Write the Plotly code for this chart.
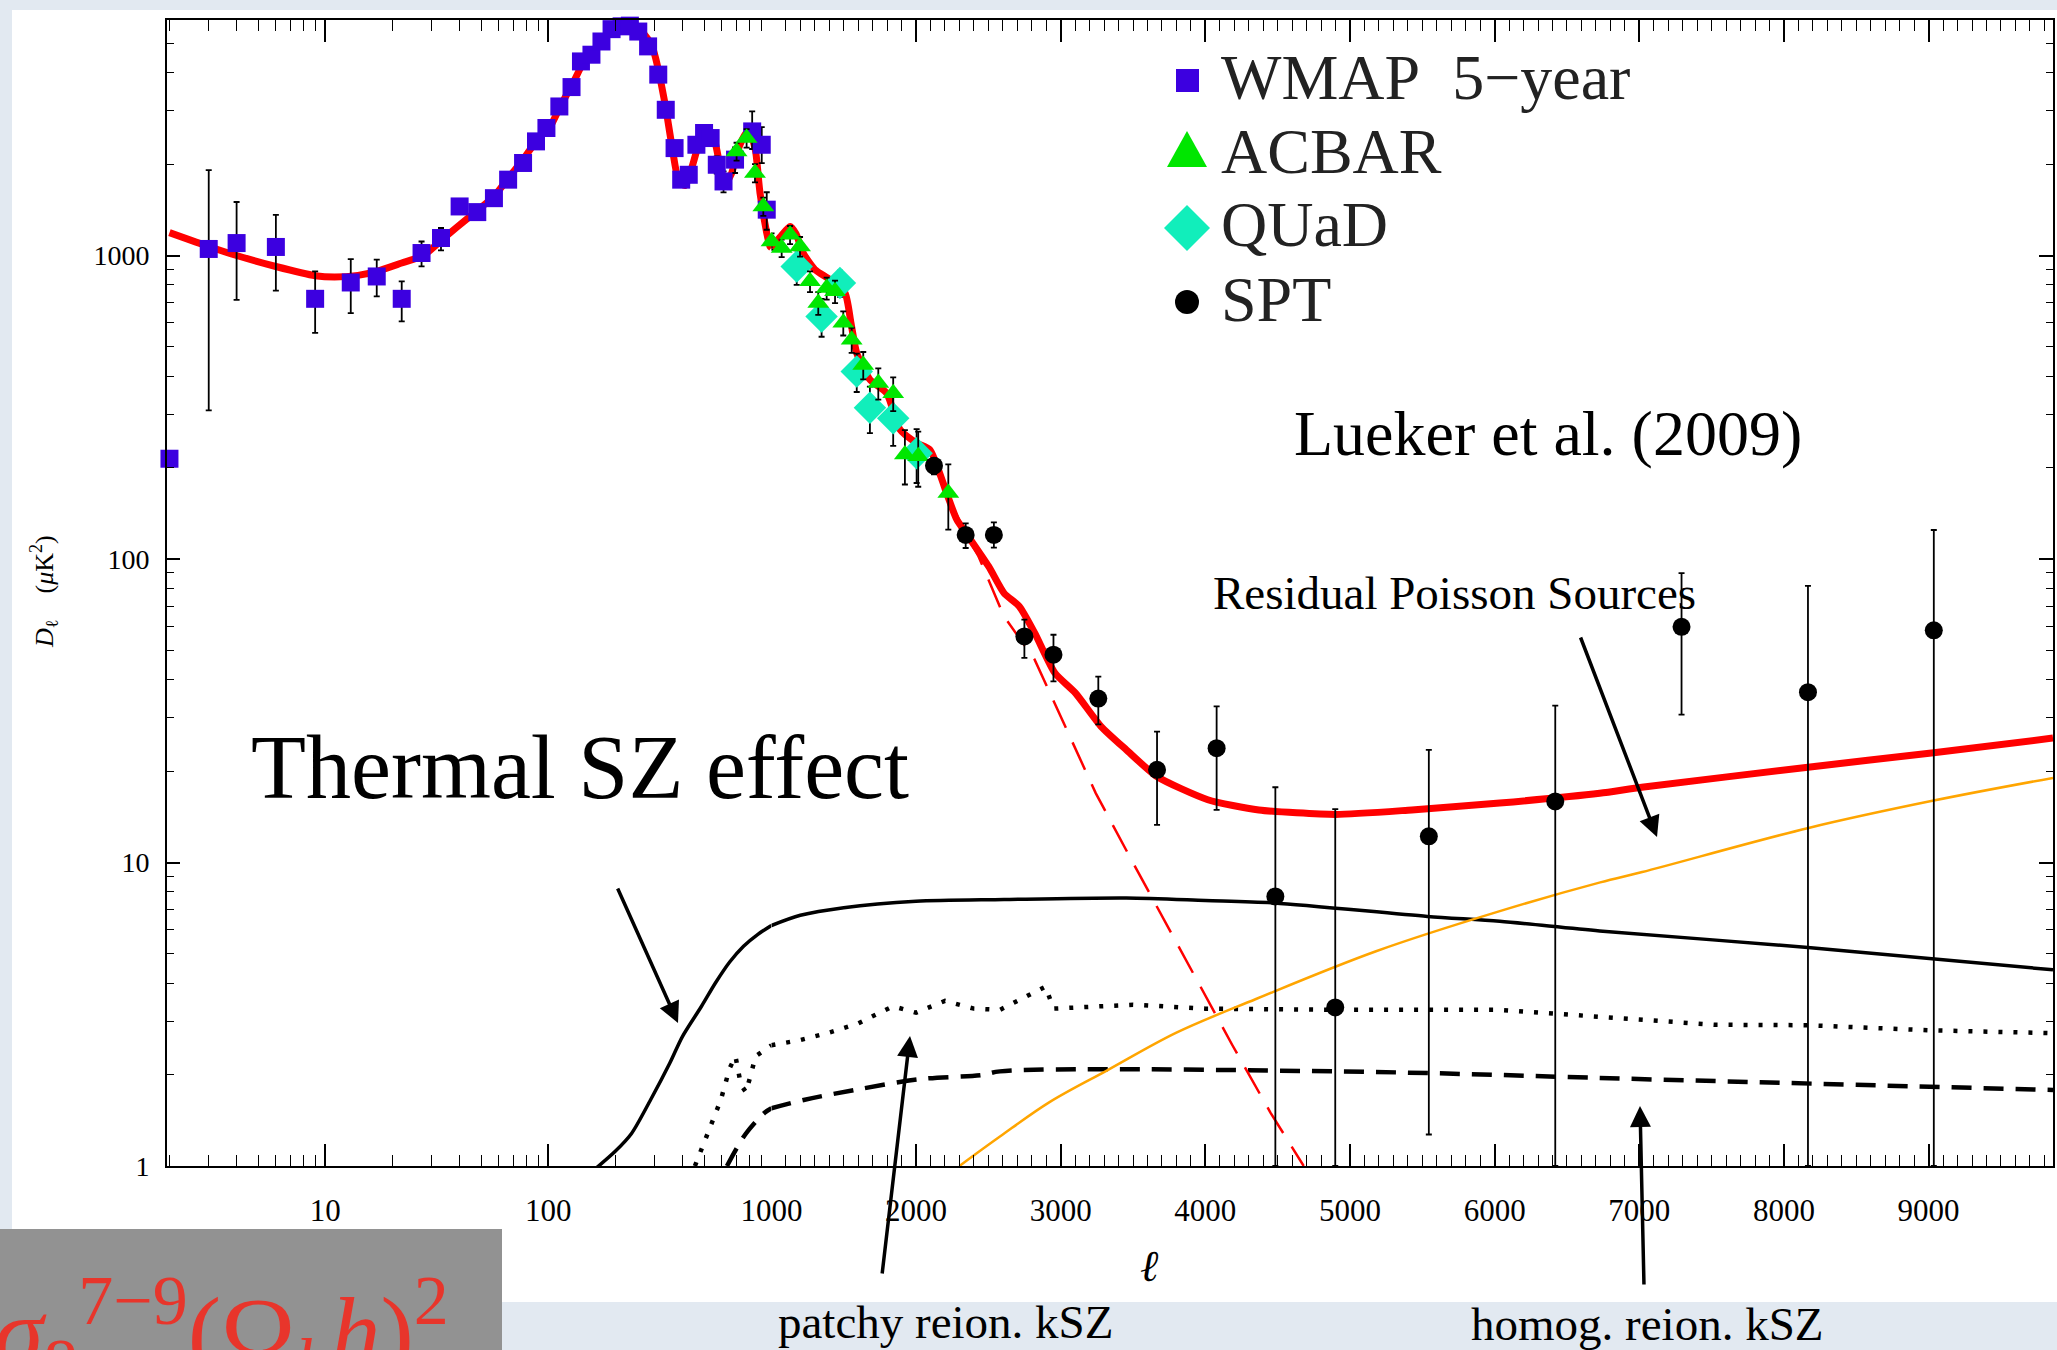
import plotly.graph_objects as go

# ---------------- data ----------------
# WMAP 5-year band powers
ell_wmap = [2, 3, 4, 6, 9, 13, 17, 22, 27, 33, 40, 48, 57, 66, 77, 88, 98, 112, 127, 140,
            156, 173, 192, 213, 232, 253, 280, 311, 336, 368, 394, 426, 461, 499, 534, 569,
            610, 687, 820, 905, 953]
d_wmap = [214, 1051, 1099, 1067, 720, 815, 853, 720, 1019, 1142, 1451, 1390, 1545, 1778, 2018,
          2377, 2631, 3098, 3589, 4360, 4588, 5072, 5570, 5690, 5720, 5470, 4887, 3945, 3021,
          2259, 1778, 1845, 2317, 2533, 2438, 1991, 1754, 2070, 2564, 2317, 1416]
err_hi_wmap = [0, 860, 402, 295, 167, 158, 116, 102, 93, 90, 70, 70, 75, 80, 85, 95, 100, 110,
               120, 130, 130, 140, 150, 150, 150, 150, 140, 120, 110, 100, 90, 95, 110, 120,
               130, 130, 140, 200, 420, 330, 200]
err_lo_wmap = [0, 742, 385, 301, 164, 169, 120, 113, 98, 103, 70, 70, 75, 80, 85, 95, 100, 110,
               120, 130, 130, 140, 150, 150, 150, 150, 140, 120, 110, 100, 90, 95, 110, 120,
               130, 130, 140, 200, 320, 300, 200]

# ACBAR
ell_acbar = [698, 774, 844, 920, 1001, 1071, 1129, 1198, 1267, 1324, 1382, 1440, 1497, 1555,
             1635, 1739, 1842, 1923, 2015, 2223]
d_acbar = [2203, 2438, 1871, 1451, 1113, 1058, 1171, 1071, 822, 697, 781, 762, 600, 528, 436,
           380, 352, 221, 218, 165]
err_acbar = [150, 170, 130, 100, 70, 70, 80, 80, 65, 60, 65, 65, 55, 50, 45, 45, 45, 45, 45, 40]

# QUaD
ell_quad = [1175, 1347, 1474, 1590, 1681, 1842, 2004]
d_quad = [920, 630, 811, 415, 315, 291, 223]
err_quad = [120, 90, 80, 60, 55, 55, 45]

# SPT (Lueker et al. 2009): value, upper and lower end of the bar
ell_spt = [2124, 2343, 2538, 2749, 2950, 3260, 3666, 4078, 4484, 4898, 5545, 6419, 7292, 8166, 9036]
d_spt = [203, 120, 120, 55.6, 48.4, 34.7, 20.2, 23.8, 7.73, 3.33, 12.2, 15.9, 59.8, 36.4, 58.2]
top_spt = [215, 131, 132, 63.1, 56.3, 41.0, 27.0, 32.7, 17.7, 15.0, 23.5, 32.9, 89.9, 81.6, 124.6]
bot_spt = [190, 108.7, 109, 47.2, 39.5, 28.5, 13.3, 14.9, 1.0, 1.0, 1.27, 1.0, 30.7, 1.0, 1.0]

# best-fit total model (CMB + foregrounds)
ell_model = [2, 3, 4, 6, 9, 11, 14, 17, 22, 27.5, 34, 44.5, 57, 67, 77, 89, 102, 113, 129, 143,
             165, 185, 202, 220, 240, 265, 290, 303, 334, 357, 385, 410, 440, 490, 530, 560, 590,
             620, 660, 720, 780, 816, 850, 889, 953, 986, 1000,
             1060, 1129, 1170, 1220, 1300, 1405, 1509, 1550, 1590, 1681, 1797, 1889, 2004, 2096,
             2211, 2281, 2361, 2502, 2608, 2714, 2820, 2960, 3101, 3278, 3454, 3665, 4017, 4370,
             4900, 5427, 6035, 6726, 7017, 8166, 9035, 9860]
d_model = [1190, 1071, 1000, 920, 858, 849, 860, 887, 945, 1000, 1142, 1345, 1566, 1823, 2070,
           2404, 2662, 3098, 3698, 4304, 4884, 5350, 5628, 5740, 5680, 5430, 4950, 4455, 3140,
           2329, 1750, 1700, 1950, 2500, 2580, 2350, 1950, 1720, 1850, 2300, 2560, 2450, 2200,
           1607, 1186, 1071, 1060,
           1150, 1247, 1180, 1019, 900, 832, 752, 600, 477, 390, 352, 267, 241, 229,
           165, 135, 118.7, 94.5, 77.2, 69.8, 57.1, 42.1, 36.2, 28.1, 23.5, 19.2, 16.1, 14.9,
           14.4, 14.9, 15.7, 16.9, 17.7, 20.6, 23.0, 25.7]

# primary CMB alone (damping tail)
ell_cmb = [2220, 2361, 2432, 2608, 2820, 3031, 3243, 3489, 3842, 4187, 4450, 4680]
d_cmb = [160, 117, 102, 64.7, 46.6, 28.1, 16.9, 10.2, 5.0, 2.5, 1.5, 1.0]

# thermal SZ
ell_tsz = [160, 200, 236, 287, 350, 399, 486, 560, 650, 750, 870, 1000, 1200, 1500, 2000, 2608,
           3454, 4000, 4477, 5535, 6035, 6726, 8166, 9860]
d_tsz = [0.97, 1.12, 1.28, 1.65, 2.18, 2.67, 3.36, 4.0, 4.7, 5.3, 5.8, 6.2, 6.7, 7.1, 7.45, 7.55,
         7.64, 7.5, 7.36, 6.64, 6.4, 5.95, 5.25, 4.43]

# patchy reionization kSZ
ell_patchy = [454, 519, 593, 650, 690, 730, 770, 850, 1000, 1200, 1398, 1600, 1840, 2000, 2200,
              2400, 2580, 2895, 2950, 3500, 4000, 4909, 6035, 7000, 7518, 8166, 9000, 9860]
d_patchy = [1.0, 1.28, 1.65, 2.1, 2.3, 1.85, 1.75, 2.3, 2.5, 2.6, 2.75, 2.95, 3.36, 3.2, 3.5,
            3.3, 3.27, 3.9, 3.3, 3.4, 3.3, 3.27, 3.27, 3.05, 2.92, 2.91, 2.8, 2.74]

# homogeneous reionization kSZ
ell_homog = [632, 769, 935, 1000, 1223, 1575, 2016, 2456, 2580, 4909, 7240, 9860]
d_homog = [1.0, 1.28, 1.50, 1.55, 1.65, 1.78, 1.93, 1.995, 2.05, 2.05, 1.92, 1.78]

# residual Poisson point sources
ell_poisson = [2300, 2580, 2920, 3325, 3800, 4350, 5180, 6030, 6730, 7020, 8170, 9035, 9860]
d_poisson = [1.0, 1.25, 1.62, 2.07, 2.75, 3.55, 5.1, 6.9, 8.6, 9.3, 13.0, 16.0, 19.0]

# axis labels
y_ticks = [1, 10, 100, 1000]
x_log_ticks = [10, 100, 1000]
x_lin_ticks = [2000, 3000, 4000, 5000, 6000, 7000, 8000, 9000]

# ---------------- layout geometry ----------------
W, H = 2057, 1350
PL, PR, PT, PB = 167, 2053, 20, 1166
SPLIT = 1000.0
XSPLIT = (771.4 - PL) / (PR - PL)


def px(x):
    return (x - PL) / (PR - PL)


def py(y):
    return (PB - y) / (PB - PT)


def halves(ell, *cols):
    """Split a series into the log-scaled (l <= 1000) and linear (l >= 1000) panels."""
    out = []
    for xa, ya, keep in (("x", "y", lambda l: l <= SPLIT), ("x2", "y2", lambda l: l >= SPLIT)):
        idx = [i for i, l in enumerate(ell) if keep(l)]
        if idx:
            out.append((xa, ya, [ell[i] for i in idx]) + tuple([c[i] for i in idx] for c in cols))
    return out


fig = go.Figure()


def add_line(ell, val, line):
    for xa, ya, xs, ys in halves(ell, val):
        fig.add_trace(go.Scatter(x=xs, y=ys, xaxis=xa, yaxis=ya, mode="lines", line=line,
                                 showlegend=False, hoverinfo="skip"))


add_line(ell_homog, d_homog, dict(color="black", width=4.5, dash="20px,12px", shape="spline"))
add_line(ell_patchy, d_patchy, dict(color="black", width=4.5, dash="4px,11px"))
add_line(ell_tsz, d_tsz, dict(color="black", width=3.5, shape="spline", smoothing=0.8))
add_line(ell_poisson, d_poisson, dict(color="#ffa500", width=2.5, shape="spline"))
add_line(ell_cmb, d_cmb, dict(color="#ff0000", width=2.5, dash="30px,16px"))
add_line(ell_model, d_model, dict(color="#ff0000", width=7, shape="spline", smoothing=0.6))


def add_points(ell, val, hi, lo, marker, clip=False):
    for xa, ya, xs, ys, h, l in halves(ell, val, hi, lo):
        fig.add_trace(go.Scatter(
            x=xs, y=ys, xaxis=xa, yaxis=ya, mode="markers", marker=marker,
            error_y=dict(type="data", symmetric=False, array=h, arrayminus=l,
                         color="black", thickness=1.8, width=3),
            cliponaxis=clip, showlegend=False, hoverinfo="skip"))


add_points(ell_wmap, d_wmap, err_hi_wmap, err_lo_wmap,
           dict(symbol="square", size=18, color="#3c00e0"))
add_points(ell_quad, d_quad, err_quad, err_quad,
           dict(symbol="diamond", size=25, color="#11eebb"))
add_points(ell_acbar, d_acbar, err_acbar, err_acbar,
           dict(symbol="triangle-up", size=19, color="#00e600"))
add_points(ell_spt, d_spt,
           [t - d for t, d in zip(top_spt, d_spt)],
           [d - b for d, b in zip(d_spt, bot_spt)],
           dict(symbol="circle", size=18, color="black"), clip=True)

# ---------------- axes ----------------
tick_font = dict(family="Liberation Serif", size=28, color="black")
axis_common = dict(showline=True, linecolor="black", linewidth=2, ticks="inside",
                   tickcolor="black", tickwidth=1.5, showgrid=False, zeroline=False,
                   automargin=False)

log_minor_x = [m * 10 ** e for e in range(0, 3) for m in range(2, 10)]
log_minor_y = [m * 10 ** e for e in range(0, 4) for m in range(2, 10)]
x_font = dict(family="Liberation Serif", size=31, color="black")

fig.update_layout(
    xaxis=dict(type="log", range=[0.29, 3.0], domain=[0, XSPLIT], anchor="y",
               mirror="ticks", ticklen=22, tickvals=x_log_ticks, tickfont=x_font,
               ticktext=[str(v) for v in x_log_ticks], ticklabelstandoff=16,
               minor=dict(tickvals=log_minor_x, ticks="inside", ticklen=11,
                          tickcolor="black", tickwidth=1.2),
               **axis_common),
    xaxis2=dict(type="linear", range=[1000, 9860], domain=[XSPLIT, 1], anchor="y2",
                mirror="ticks", ticklen=22, tickvals=x_lin_ticks, tickfont=x_font,
                ticktext=[str(v) for v in x_lin_ticks], ticklabelstandoff=16,
                minor=dict(dtick=100, tick0=0, ticks="inside", ticklen=11,
                           tickcolor="black", tickwidth=1.2),
                **axis_common),
    yaxis=dict(type="log", range=[0, 3.776], domain=[0, 1], anchor="x", side="left",
               ticklen=13, tickvals=y_ticks, ticktext=[str(v) for v in y_ticks],
               ticklabelstandoff=10, tickfont=tick_font,
               minor=dict(tickvals=log_minor_y, ticks="inside", ticklen=7,
                          tickcolor="black", tickwidth=1.2),
               **axis_common),
    yaxis2=dict(type="log", range=[0, 3.776], domain=[0, 1], anchor="x2", side="right",
                ticklen=14, tickvals=y_ticks, showticklabels=False,
                minor=dict(tickvals=log_minor_y, ticks="inside", ticklen=7,
                           tickcolor="black", tickwidth=1.2),
                **axis_common),
)

# ---------------- background panels & legend keys ----------------
shapes = [
    dict(type="rect", xref="paper", yref="paper", x0=px(12), x1=px(2070), y0=py(1302),
         y1=py(10), fillcolor="white", line=dict(width=0), layer="below"),
    dict(type="rect", xref="paper", yref="paper", x0=px(-5), x1=px(502), y0=py(1229),
         y1=py(1370), fillcolor="#929292", line=dict(width=0), layer="below"),
    # legend symbols
    dict(type="rect", xref="paper", yref="paper", x0=px(1176), x1=px(1199), y0=py(92),
         y1=py(69), fillcolor="#3c00e0", line=dict(width=0)),
    dict(type="path", xref="paper", yref="paper",
         path=f"M {px(1187)},{py(131)} L {px(1207)},{py(167)} L {px(1167)},{py(167)} Z",
         fillcolor="#00e600", line=dict(width=0)),
    dict(type="path", xref="paper", yref="paper",
         path=f"M {px(1187)},{py(205)} L {px(1210)},{py(228)} L {px(1187)},{py(251)} "
              f"L {px(1164)},{py(228)} Z",
         fillcolor="#11eebb", line=dict(width=0)),
    dict(type="circle", xref="paper", yref="paper", x0=px(1175), x1=px(1199), y0=py(314),
         y1=py(290), fillcolor="black", line=dict(width=0)),
]

serif = "Liberation Serif"


def label(text, x, y, size, family=serif, xanchor="left", color="black", **kw):
    return dict(text=text, xref="paper", yref="paper", x=px(x), y=py(y), xanchor=xanchor,
                yanchor="middle", showarrow=False,
                font=dict(family=family, size=size, color=color), **kw)


def arrow(head, tail):
    return dict(text="", xref="paper", yref="paper", x=px(head[0]), y=py(head[1]),
                ax=tail[0] - head[0], ay=tail[1] - head[1], axref="pixel", ayref="pixel",
                showarrow=True, arrowhead=2, arrowsize=1.2, arrowwidth=3.5,
                arrowcolor="black")


annotations = [
    label("WMAP\u00a0 5\u2212year", 1219, 78, 64, color="#222222"),
    label("ACBAR", 1219, 151, 64, color="#222222"),
    label("QUaD", 1219, 225, 64, color="#222222"),
    label("SPT", 1219, 299, 64, color="#222222"),
    label("Lueker et al. (2009)", 1292, 433, 64),
    label("Residual Poisson Sources", 1211, 593, 47),
    label("Thermal SZ effect", 249, 767, 90),
    label("patchy reion. kSZ", 945, 1322, 47, xanchor="center"),
    label("homog. reion. kSZ", 1647, 1324, 47, xanchor="center"),
    label("<i>\u2113</i>", 1149, 1266, 44, xanchor="center"),
    dict(text="<i>D</i><sub>\u2113</sub>\u00a0\u00a0\u00a0\u00a0(<i>\u03bc</i>K<sup>2</sup>)",
         xref="paper", yref="paper", x=px(44), y=py(592), xanchor="center", yanchor="middle",
         textangle=-90, showarrow=False, font=dict(family=serif, size=26, color="black")),
    dict(text="<i>\u03c3</i><sub>8</sub><sup>7\u22129</sup>(\u03a9<sub><i>b</i></sub><i>h</i>)<sup>2</sup>",
         xref="paper", yref="paper", x=px(-8), y=py(1260), xanchor="left", yanchor="top",
         showarrow=False, font=dict(family=serif, size=100, color="#e8352b")),
    arrow((678, 1023), (617, 887)),
    arrow((910, 1036), (882, 1275)),
    arrow((1657, 837), (1580, 636)),
    arrow((1640, 1106), (1644, 1286)),
]

fig.update_layout(
    width=W, height=H,
    margin=dict(l=PL, r=W - PR, t=PT, b=H - PB, pad=0),
    paper_bgcolor="#e2e9f1",
    plot_bgcolor="white",
    showlegend=False,
    shapes=shapes,
    annotations=annotations,
)

fig.write_html("out.html")
